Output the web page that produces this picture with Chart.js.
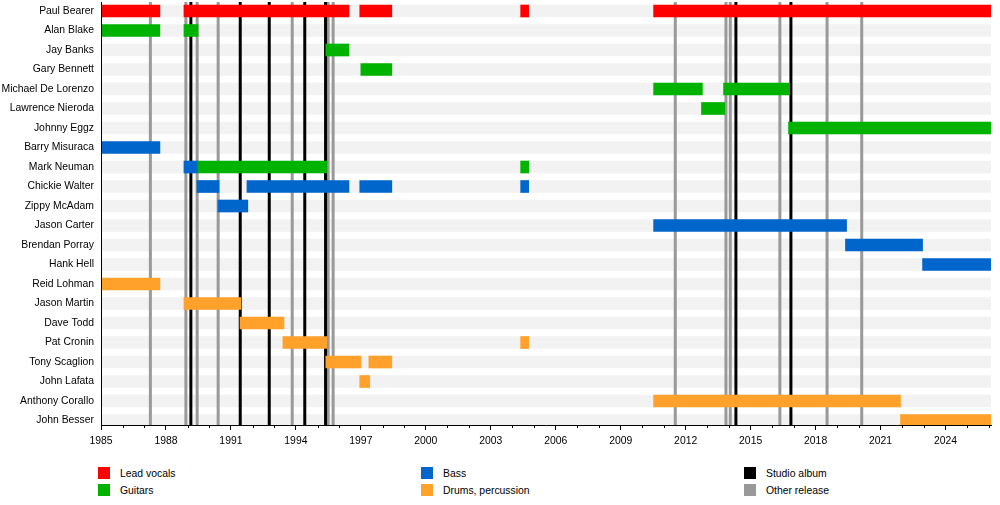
<!DOCTYPE html>
<html>
<head>
<meta charset="utf-8">
<script src="https://cdn.jsdelivr.net/npm/chart.js@4.4.1/dist/chart.umd.min.js"></script>
<style>
body{margin:0;background:#fff;font-family:"Liberation Sans",Arial,sans-serif}
#wrap{position:relative;width:1000px;height:505px;overflow:hidden}
#zone{position:absolute;left:0;top:0;width:1000px;height:455px}
.leg{position:absolute;font-size:10.4px;color:#000;line-height:12px;white-space:nowrap}
.leg span{position:absolute;left:0;top:0;width:12px;height:12px}
.leg b{font-weight:normal;position:absolute;left:22px;top:1px}
</style>
</head>
<body>
<div id="wrap">
  <div id="zone"><canvas id="timeline"></canvas></div>
  <div id="legende"></div>
</div>
<script>
// membres, de haut en bas
const members=["Paul Bearer","Alan Blake","Jay Banks","Gary Bennett","Michael De Lorenzo","Lawrence Nieroda","Johnny Eggz","Barry Misuraca","Mark Neuman","Chickie Walter","Zippy McAdam","Jason Carter","Brendan Porray","Hank Hell","Reid Lohman","Jason Martin","Dave Todd","Pat Cronin","Tony Scaglion","John Lafata","Anthony Corallo","John Besser"]

const startYear=1985
const endYear=2026.1
const majorYears=[1985,1988,1991,1994,1997,2000,2003,2006,2009,2012,2015,2018,2021,2024]

// [membre, debut, fin]
const vocals=[
  ["Paul Bearer",1985,1987.72],["Paul Bearer",1988.83,1996.45],["Paul Bearer",1996.95,1998.43],
  ["Paul Bearer",2004.38,2004.75],["Paul Bearer",2010.52,2026.1]
]
const guitars=[
  ["Alan Blake",1985,1987.72],["Alan Blake",1988.83,1989.48],["Jay Banks",1995.38,1996.45],
  ["Gary Bennett",1997.0,1998.43],["Michael De Lorenzo",2010.52,2012.77],["Michael De Lorenzo",2013.75,2016.8],
  ["Lawrence Nieroda",2012.73,2013.8],["Johnny Eggz",2016.75,2026.1],
  ["Mark Neuman",1989.48,1995.43],["Mark Neuman",2004.38,2004.75]
]
const bass=[
  ["Barry Misuraca",1985,1987.72],["Mark Neuman",1988.83,1989.48],
  ["Chickie Walter",1989.43,1990.45],["Chickie Walter",1991.74,1996.45],["Chickie Walter",1996.95,1998.43],["Chickie Walter",2004.38,2004.75],
  ["Zippy McAdam",1990.4,1991.78],["Jason Carter",2010.52,2019.43],["Brendan Porray",2019.38,2022.94],["Hank Hell",2022.94,2026.1]
]
const drums=[
  ["Reid Lohman",1985,1987.72],["Jason Martin",1988.83,1991.46],["Dave Todd",1991.42,1993.45],
  ["Pat Cronin",1993.4,1995.43],["Pat Cronin",2004.38,2004.75],
  ["Tony Scaglion",1995.38,1997.0],["Tony Scaglion",1997.37,1998.43],["John Lafata",1996.95,1997.41],
  ["Anthony Corallo",2010.52,2021.92],["John Besser",2021.92,2026.1]
]

const studioAlbums=[1989.15,1991.43,1992.77,1994.41,1995.37,2014.32,2016.86]
const otherReleases=[1987.28,1988.92,1989.44,1990.41,1993.83,1995.49,1995.72,2011.52,2013.86,2014.06,2016.35,2018.53,2020.13]

const roles=[
  {label:"Lead vocals",color:"#ff0000",rows:vocals},
  {label:"Guitars",color:"#00b300",rows:guitars},
  {label:"Bass",color:"#0066cc",rows:bass},
  {label:"Drums, percussion",color:"#ffa12b",rows:drums}
]
const legendItems=[
  ["Lead vocals","#ff0000"],["Guitars","#00b300"],
  ["Bass","#0066cc"],["Drums, percussion","#ffa12b"],
  ["Studio album","#000000"],["Other release","#999999"]
]

const font={family:"'Liberation Sans', Arial, sans-serif",size:10.4}

function toPoints(rows){
  return rows.map(r=>({y:members.indexOf(r[0]),x:[r[1],r[2]]}))
}

let datasets=[{
  label:"rows",
  data:members.map((m,i)=>({y:i,x:[startYear,endYear]})),
  backgroundColor:"#f2f2f2",
  order:10
}]
for(let role of roles){
  datasets.push({label:role.label,data:toPoints(role.rows),backgroundColor:role.color,order:1})
}
for(let d of datasets){
  d.barThickness=12
  d.grouped=false
  d.borderWidth=0
}

function drawLines(ctx,scale,area,years,color){
  ctx.strokeStyle=color
  for(let y of years){
    const px=scale.getPixelForValue(y)
    ctx.beginPath()
    ctx.moveTo(px,area.top)
    ctx.lineTo(px,area.bottom)
    ctx.stroke()
  }
}

const releasesPlugin={
  id:"releases",
  afterDatasetDraw(chart,args){
    if(chart.data.datasets[args.index].label!=="rows") return
    const ctx=chart.ctx, area=chart.chartArea
    ctx.save()
    ctx.beginPath()
    ctx.rect(area.left,area.top,area.width,area.bottom-area.top)
    ctx.clip()
    ctx.lineWidth=3
    drawLines(ctx,chart.scales.x,area,otherReleases,"#999999")
    drawLines(ctx,chart.scales.x,area,studioAlbums,"#000000")
    ctx.restore()
  },
  afterDraw(chart){
    // petites graduations pour chaque annee
    const ctx=chart.ctx, x=chart.scales.x, bottom=chart.chartArea.bottom
    ctx.save()
    ctx.strokeStyle="#000"
    ctx.lineWidth=1
    for(let y=startYear;y<=endYear;y++){
      if(majorYears.includes(y)) continue
      const px=Math.round(x.getPixelForValue(y))+0.5
      ctx.beginPath()
      ctx.moveTo(px,bottom)
      ctx.lineTo(px,bottom+3)
      ctx.stroke()
    }
    ctx.restore()
  }
}

const config={
  type:"bar",
  data:{datasets:datasets},
  options:{
    indexAxis:"y",
    responsive:true,
    maintainAspectRatio:false,
    animation:false,
    layout:{padding:{top:2,right:9,left:0,bottom:0}},
    plugins:{legend:{display:false},tooltip:{enabled:false}},
    scales:{
      x:{
        type:"linear",
        position:"bottom",
        min:startYear,
        max:endYear,
        afterBuildTicks(s){ s.ticks=majorYears.map(v=>({value:v})) },
        afterFit(s){ s.height=30; s.paddingLeft=0; s.paddingRight=0 },
        grid:{drawOnChartArea:false,drawTicks:true,tickLength:5,tickColor:"#000",tickWidth:1,z:1},
        border:{display:true,color:"#000",width:1,z:2},
        ticks:{padding:5,color:"#000",font:font,maxRotation:0,autoSkip:false,callback:v=>String(v)}
      },
      y:{
        type:"linear",
        reverse:true,
        offset:false,
        min:-0.4615,
        max:21.23,
        afterBuildTicks(s){ s.ticks=members.map((m,i)=>({value:i})) },
        afterFit(s){ s.width=101; s.paddingTop=0; s.paddingBottom=0 },
        grid:{display:false,drawTicks:false,offset:false},
        border:{display:true,color:"#000",width:1,z:2},
        ticks:{padding:7,color:"#000",font:font,autoSkip:false,callback:v=>members[v]}
      }
    }
  },
  plugins:[releasesPlugin]
}

const zone=document.getElementById("timeline")
const graphe=new Chart(zone,config)

// legende en trois colonnes
const colX=[98,421,744]
const rowY=[467,484]
let i=0
for(let item of legendItems){
  const el=document.createElement("div")
  el.className="leg"
  el.style.left=colX[Math.floor(i/2)]+"px"
  el.style.top=rowY[i%2]+"px"
  el.innerHTML=`<span style="background:${item[1]}"></span><b>${item[0]}</b>`
  document.getElementById("legende").appendChild(el)
  i++
}
</script>
</body>
</html>
